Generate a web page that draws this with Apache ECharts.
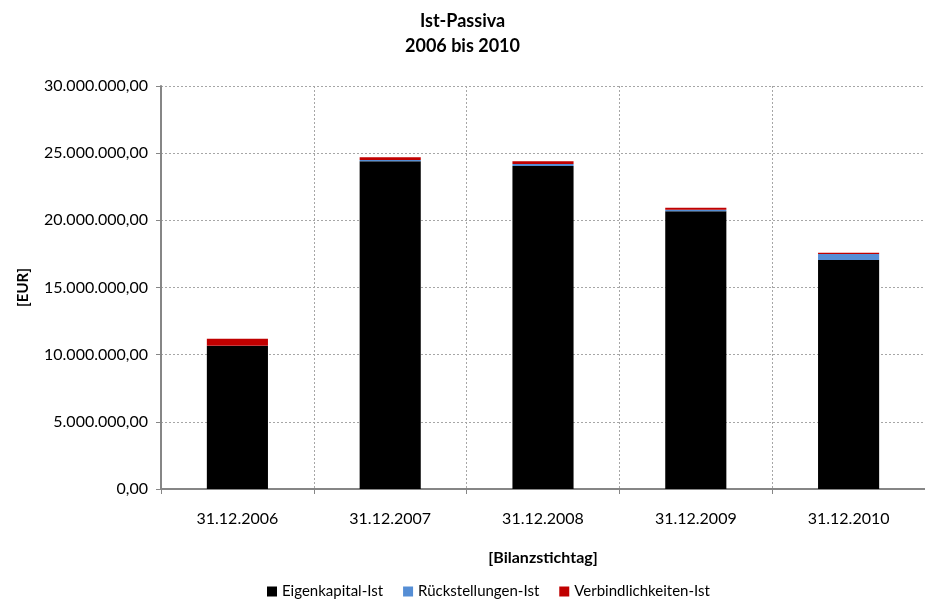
<!DOCTYPE html>
<html>
<head>
<meta charset="utf-8">
<script src="https://cdn.jsdelivr.net/npm/echarts@6/dist/echarts.min.js"></script>
<style>
  html, body { margin: 0; padding: 0; background: #fff; }
  #chart { width: 925px; height: 604px; }
</style>
</head>
<body>
<div id="chart"></div>
<script>
// Balance sheet dates
const categories = ['31.12.2006', '31.12.2007', '31.12.2008', '31.12.2009', '31.12.2010'];
// Liabilities side, in EUR
const eigenkapital = [10650000, 24400000, 24050000, 20680000, 17050000];
const rueckstellungen = [20000, 100000, 150000, 100000, 450000];
const verbindlichkeiten = [520000, 200000, 200000, 150000, 80000];
const seriesNames = ['Eigenkapital-Ist', 'Rückstellungen-Ist', 'Verbindlichkeiten-Ist'];
const seriesColors = ['#000000', '#558ED5', '#C00000'];

const FONT = 'Lato';

function fmtEUR(v) {
  const s = Math.round(v).toString().replace(/\B(?=(\d{3})+(?!\d))/g, '.');
  return s + ',00';
}

const chart = echarts.init(document.getElementById('chart'));
const values = [eigenkapital, rueckstellungen, verbindlichkeiten];

chart.setOption({
  backgroundColor: '#ffffff',
  animation: false,
  textStyle: { fontFamily: FONT },
  title: {
    text: 'Ist-Passiva\n2006 bis 2010',
    left: 'center',
    top: 4,
    textStyle: { fontFamily: FONT, fontSize: 18, fontWeight: 'bold', color: '#000', lineHeight: 25 }
  },
  legend: {
    bottom: 0,
    left: 262,
    itemWidth: 10,
    itemHeight: 10,
    itemGap: 20,
    icon: 'rect',
    textStyle: { fontFamily: FONT, fontSize: 15, color: '#000' },
    data: seriesNames
  },
  grid: { left: 161, right: -7, top: 86, bottom: 115 },
  xAxis: {
    type: 'category',
    data: categories,
    name: '[Bilanzstichtag]',
    nameLocation: 'middle',
    nameGap: 61,
    nameTextStyle: { fontFamily: FONT, fontSize: 16, fontWeight: 'bold', color: '#000' },
    axisLine: { lineStyle: { color: '#868686', width: 2 } },
    axisTick: { show: true, length: 5, lineStyle: { color: '#868686', width: 1 } },
    axisLabel: { fontFamily: FONT, fontSize: 16, color: '#000', margin: 22 },
    splitLine: { show: true, lineStyle: { color: '#a6a6a6', type: [2, 2], width: 1 } }
  },
  yAxis: {
    type: 'value',
    min: 0,
    max: 30000000,
    interval: 5000000,
    name: '[EUR]',
    nameLocation: 'middle',
    nameGap: 130,
    nameTextStyle: { fontFamily: FONT, fontSize: 15, fontWeight: 'bold', color: '#000' },
    axisLine: { show: true, lineStyle: { color: '#868686', width: 2 } },
    axisTick: { show: true, length: 5, lineStyle: { color: '#868686', width: 1 } },
    axisLabel: { fontFamily: FONT, fontSize: 16, color: '#000', margin: 13, formatter: fmtEUR },
    splitLine: { show: true, lineStyle: { color: '#a6a6a6', type: [2, 2], width: 1 } }
  },
  series: seriesNames.map((name, i) => ({
    name,
    type: 'bar',
    stack: 'passiva',
    barWidth: '40%',
    itemStyle: { color: seriesColors[i] },
    data: values[i]
  }))
});
</script>
</body>
</html>
